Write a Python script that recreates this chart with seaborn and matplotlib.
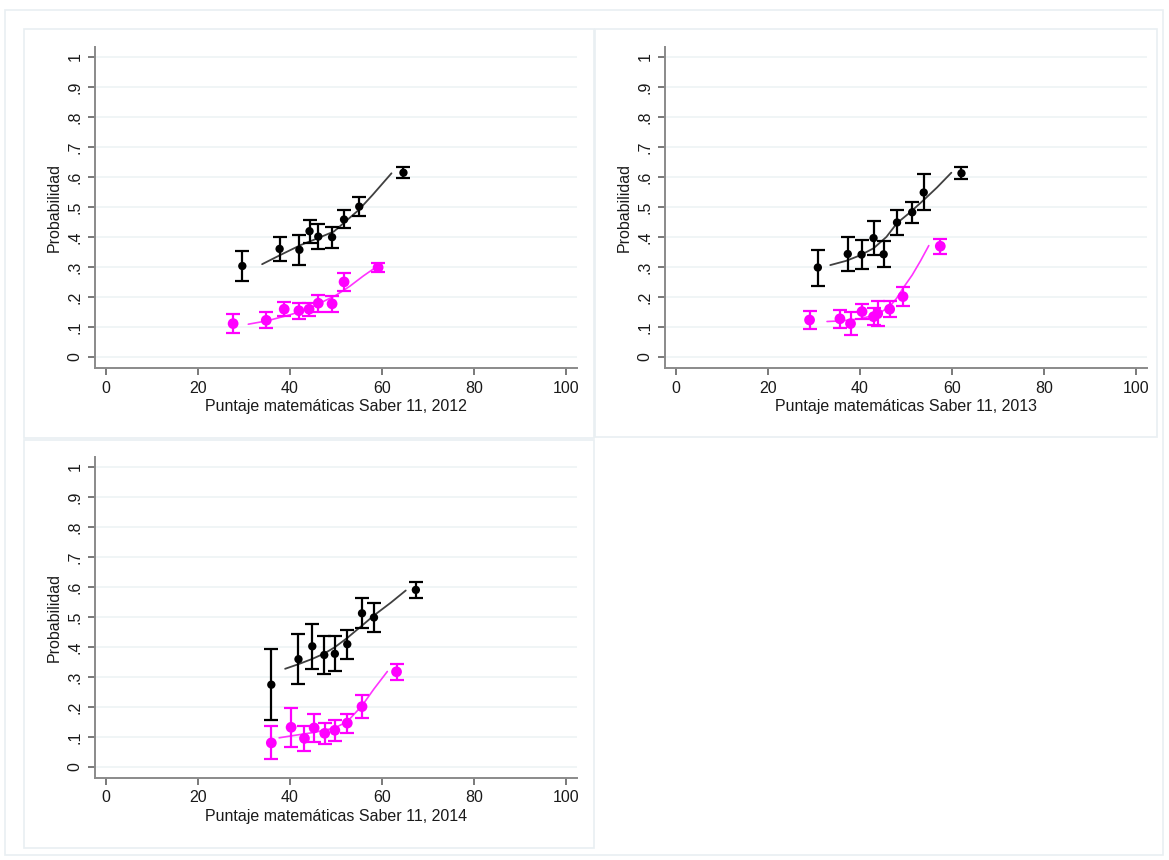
import numpy as np
import pandas as pd
import matplotlib
matplotlib.use("Agg")
import matplotlib.pyplot as plt
import seaborn as sns
from matplotlib.patches import Rectangle

sns.set_style("white")
plt.rcParams['font.family'] = ['Liberation Sans', 'DejaVu Sans']

# ---------------- data ----------------
years = ["2012", "2013", "2014"]

# 2012
x12_blk = [29.7, 37.8, 42.1, 44.3, 46.2, 49.2, 51.8, 55.1, 64.7]
y12_blk = [0.303, 0.360, 0.357, 0.419, 0.401, 0.399, 0.458, 0.501, 0.614]
e12_blk = [0.050, 0.040, 0.050, 0.038, 0.042, 0.035, 0.030, 0.032, 0.018]
x12_mag = [27.7, 34.9, 38.8, 42.0, 44.2, 46.2, 49.2, 51.8, 59.2]
y12_mag = [0.111, 0.122, 0.159, 0.154, 0.159, 0.179, 0.177, 0.250, 0.298]
e12_mag = [0.032, 0.027, 0.023, 0.027, 0.022, 0.029, 0.027, 0.029, 0.016]
fx12_blk = [34.0, 38.0, 42.4, 46.0, 49.6, 52.0, 55.0, 58.0, 62.1]
fy12_blk = [0.309, 0.340, 0.373, 0.395, 0.418, 0.450, 0.490, 0.540, 0.612]
fx12_mag = [31.0, 35.0, 40.0, 44.0, 46.0, 50.0, 53.0, 56.0, 59.2]
fy12_mag = [0.109, 0.120, 0.140, 0.160, 0.175, 0.205, 0.235, 0.270, 0.304]

# 2013
x13_blk = [30.9, 37.4, 40.4, 43.0, 45.2, 48.1, 51.4, 53.9, 62.1]
y13_blk = [0.298, 0.343, 0.341, 0.396, 0.342, 0.448, 0.482, 0.548, 0.612]
e13_blk = [0.060, 0.057, 0.048, 0.057, 0.043, 0.040, 0.035, 0.060, 0.020]
x13_mag = [29.1, 35.7, 38.0, 40.5, 43.0, 43.9, 46.5, 49.4, 57.5]
y13_mag = [0.123, 0.127, 0.111, 0.151, 0.134, 0.144, 0.159, 0.201, 0.369]
e13_mag = [0.031, 0.030, 0.039, 0.025, 0.028, 0.042, 0.027, 0.031, 0.025]
fx13_blk = [33.6, 37.0, 40.0, 43.0, 45.8, 48.1, 50.8, 53.9, 56.8, 59.9]
fy13_blk = [0.306, 0.320, 0.338, 0.362, 0.400, 0.446, 0.480, 0.523, 0.565, 0.614]
fx13_mag = [32.9, 36.0, 40.0, 43.0, 44.7, 46.5, 48.0, 49.4, 51.4, 53.2, 55.0]
fy13_mag = [0.118, 0.120, 0.127, 0.138, 0.150, 0.168, 0.195, 0.229, 0.273, 0.320, 0.371]

# 2014
x14_blk = [36.0, 41.9, 44.9, 47.5, 49.8, 52.5, 55.7, 58.3, 67.4]
y14_blk = [0.274, 0.359, 0.402, 0.373, 0.377, 0.409, 0.512, 0.498, 0.590]
e14_blk = [0.118, 0.083, 0.076, 0.062, 0.058, 0.048, 0.050, 0.047, 0.027]
x14_mag = [36.0, 40.3, 43.2, 45.3, 47.6, 49.8, 52.5, 55.7, 63.2]
y14_mag = [0.080, 0.132, 0.095, 0.130, 0.112, 0.122, 0.146, 0.201, 0.317]
e14_mag = [0.055, 0.064, 0.043, 0.047, 0.035, 0.034, 0.032, 0.038, 0.027]
fx14_blk = [39.0, 42.0, 44.9, 47.5, 49.8, 52.5, 55.7, 58.3, 62.0, 65.2]
fy14_blk = [0.327, 0.343, 0.360, 0.378, 0.399, 0.430, 0.471, 0.505, 0.548, 0.588]
fx14_mag = [37.7, 41.0, 45.3, 49.8, 52.5, 55.7, 58.3, 61.2]
fy14_mag = [0.097, 0.105, 0.115, 0.130, 0.151, 0.204, 0.260, 0.318]

x_ticks = [0, 20, 40, 60, 80, 100]
y_ticks = [0, 0.1, 0.2, 0.3, 0.4, 0.5, 0.6, 0.7, 0.8, 0.9, 1.0]
y_ticklabels = ["0", ".1", ".2", ".3", ".4", ".5", ".6", ".7", ".8", ".9", "1"]
y_label = "Probabilidad"
x_label_base = "Puntaje matemáticas Saber 11, "

panels = [
    (x12_blk, y12_blk, e12_blk, x12_mag, y12_mag, e12_mag, fx12_blk, fy12_blk, fx12_mag, fy12_mag),
    (x13_blk, y13_blk, e13_blk, x13_mag, y13_mag, e13_mag, fx13_blk, fy13_blk, fx13_mag, fy13_mag),
    (x14_blk, y14_blk, e14_blk, x14_mag, y14_mag, e14_mag, fx14_blk, fy14_blk, fx14_mag, fy14_mag),
]

W, H = 1169, 860
fig = plt.figure(figsize=(W / 100, H / 100), dpi=100)
fig.patch.set_facecolor("white")

def frac_rect(x0, y0, x1, y1):
    return [x0 / W, 1 - y1 / H, (x1 - x0) / W, (y1 - y0) / H]

axes_px = [(95, 47, 577, 368), (665, 47, 1147, 368), (95, 457, 577, 778)]
border_col = "#e9eff2"
fig.add_artist(Rectangle((5 / W, 1 - 855 / H), (1163 - 5) / W, (855 - 10) / H,
                         transform=fig.transFigure, fill=False, ec=border_col, lw=1.2))
for (x0, y0, x1, y1) in [(24, 29, 594, 438), (595, 29, 1157, 437), (24, 440, 594, 848)]:
    fig.add_artist(Rectangle((x0 / W, 1 - y1 / H), (x1 - x0) / W, (y1 - y0) / H,
                             transform=fig.transFigure, fill=False, ec=border_col, lw=1.2))

BLK = "#000000"
BLK_LINE = "#404040"
MAG = "#ff00ff"
MAG_LINE = "#ff33ff"
TXT = "#1a1a1a"

for i, (yr, p) in enumerate(zip(years, panels)):
    xb, yb, eb, xm, ym, em, fxb, fyb, fxm, fym = p
    ax = fig.add_axes(frac_rect(*axes_px[i]))
    ax.set_xlim(-2.3, 102.4)
    ax.set_ylim(-0.037, 1.033)
    for yt in y_ticks:
        ax.axhline(yt, color="#eef3f5", lw=1.2, zorder=0)
    # fit lines
    sns.lineplot(x=fxb, y=fyb, ax=ax, color=BLK_LINE, lw=1.3, zorder=2, sort=True)
    sns.lineplot(x=fxm, y=fym, ax=ax, color=MAG_LINE, lw=1.2, zorder=2, sort=True)
    # error bars
    ax.errorbar(xb, yb, yerr=eb, fmt="none", ecolor=BLK, elinewidth=1.6, capsize=5, capthick=1.6, zorder=3)
    ax.errorbar(xm, ym, yerr=em, fmt="none", ecolor=MAG, elinewidth=1.6, capsize=5, capthick=1.6, zorder=3)
    # points
    sns.scatterplot(x=xb, y=yb, ax=ax, color=BLK, s=36, edgecolor="none", zorder=4)
    sns.scatterplot(x=xm, y=ym, ax=ax, color=MAG, s=60, edgecolor="none", zorder=4)

    ax.set_xticks(x_ticks)
    ax.set_xticklabels([str(t) for t in x_ticks])
    ax.set_yticks(y_ticks)
    ax.set_yticklabels(y_ticklabels, rotation=90, va="center")
    ax.tick_params(axis="both", direction="out", length=5, width=1.1, color="#555555",
                   labelsize=11.5, labelcolor=TXT, left=True, bottom=True)
    ax.tick_params(axis="x", pad=4)
    ax.tick_params(axis="y", pad=4)
    for s in ["top", "right"]:
        ax.spines[s].set_visible(False)
    for s in ["left", "bottom"]:
        ax.spines[s].set_color("#8a8a8a")
        ax.spines[s].set_linewidth(1.4)
    ax.set_xlabel(x_label_base + yr, fontsize=11.5, color=TXT, labelpad=2.5)
    ax.set_ylabel(y_label, fontsize=11.5, color=TXT, labelpad=4)
    ax.grid(False)

fig.savefig("out.png", dpi=100, facecolor="white")
